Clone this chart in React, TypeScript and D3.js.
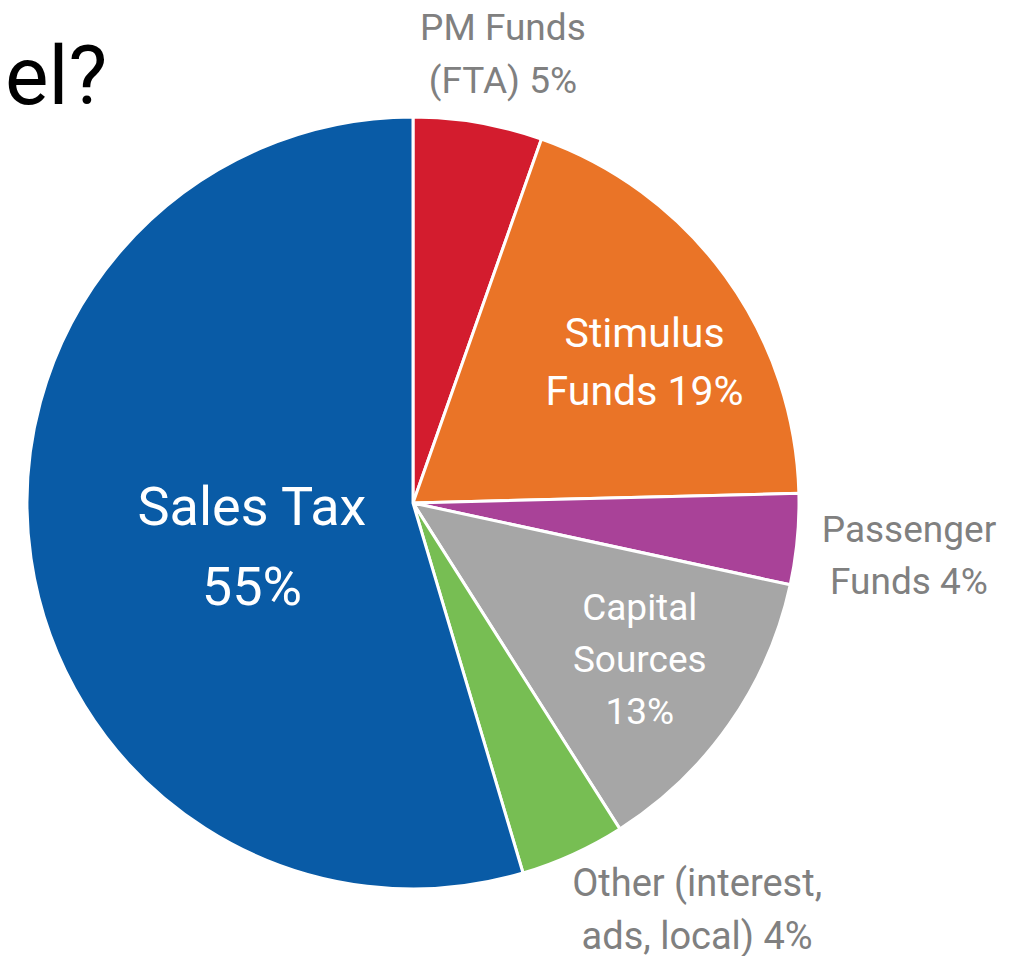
import React from "react";
import * as d3 from "d3";

const categories = ["PM Funds (FTA)", "Stimulus Funds", "Passenger Funds", "Capital Sources", "Other (interest, ads, local)", "Sales Tax"];
const values = [5.4, 19.2, 3.8, 12.6, 4.4, 54.6];
const labelLines = [
  ["PM Funds", "(FTA) 5%"],
  ["Stimulus", "Funds 19%"],
  ["Passenger", "Funds 4%"],
  ["Capital", "Sources", "13%"],
  ["Other (interest,", "ads, local) 4%"],
  ["Sales Tax", "55%"],
];
const colors = ["#D31C2E", "#EA7427", "#A94298", "#A6A6A6", "#77BE53", "#095BA6"];
const titleText = "el?";

// label layout (presentation only)
const labelRadius = [1.187, 0.703, 1.292, 0.713, 1.284, 0.432];
const labelAngleNudge = [1.6, 4.6, 0.6, -0.4, -10.5, -6.7];
const labelSize = [37, 41, 37, 37, 38, 54];
const labelLineH = [53, 58, 52, 52, 53, 80];
const labelInside = [false, true, false, true, false, true];

export default function App() {
  const W = 1023, H = 956;
  const cx = 413, cy = 503, R = 386;
  const data = categories.map((c, i) => ({ c, v: values[i], i }));
  const pie = d3.pie<any>().value((d) => d.v).sort(null);
  const arcs = pie(data);
  const arc = d3.arc<any>().innerRadius(0).outerRadius(R);
  const font = "Roboto, 'Noto Sans', sans-serif";
  return (
    <svg width={W} height={H} style={{ position: "absolute", left: 0, top: 0, background: "#fff" }}>
      <text x={5} y={104} fontSize={82} fontFamily={font} fill="#000">{titleText}</text>
      <g transform={`translate(${cx},${cy})`}>
        {arcs.map((a, i) => (
          <path key={i} d={arc(a) || ""} fill={colors[i]} stroke="#fff" strokeWidth={3} strokeLinejoin="round" />
        ))}
        {arcs.map((a, i) => {
          const mid = (a.startAngle + a.endAngle) / 2 + (labelAngleNudge[i] * Math.PI) / 180;
          const r = labelRadius[i] * R;
          const x = r * Math.sin(mid);
          const y = -r * Math.cos(mid);
          const lines = labelLines[i];
          const fs = labelSize[i];
          const lh = labelLineH[i];
          return (
            <text key={i} textAnchor="middle" fontSize={fs} fontFamily={font} fill={labelInside[i] ? "#fff" : "#808080"}>
              {lines.map((ln, k) => (
                <tspan key={k} x={x} y={y + (k - (lines.length - 1) / 2) * lh + 0.35 * fs}>{ln}</tspan>
              ))}
            </text>
          );
        })}
      </g>
    </svg>
  );
}
